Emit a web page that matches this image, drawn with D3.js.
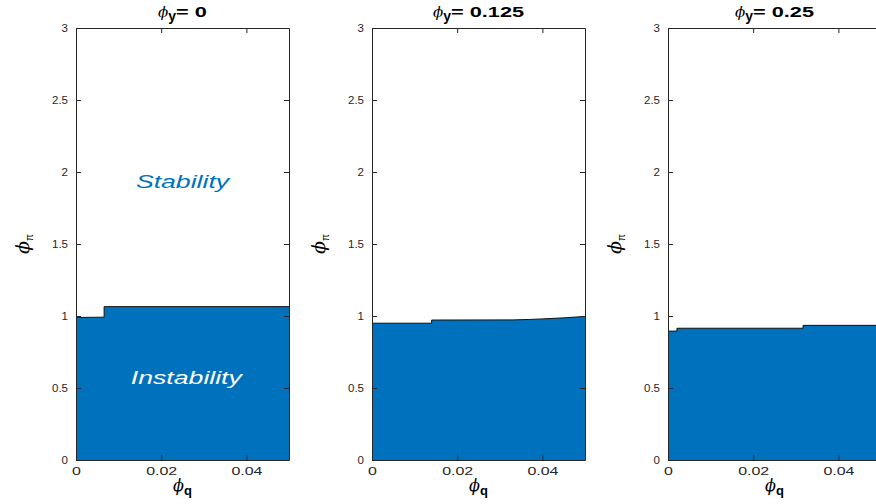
<!DOCTYPE html>
<html><head><meta charset="utf-8">
<script src="https://cdn.jsdelivr.net/npm/d3@7"></script>
<style>body{margin:0;background:#fff}svg{display:block}text{font-family:"Liberation Sans",Arial,sans-serif}</style>
</head><body><svg id="c" width="876" height="504"></svg>
<script>
const titles = ["0", "0.125", "0.25"];
const xTicks = [0, 0.02, 0.04];
const yTicks = [0, 0.5, 1, 1.5, 2, 2.5, 3];
const yTickLabels = ["0", "0.5", "1", "1.5", "2", "2.5", "3"];
const xTickLabels = ["0", "0.02", "0.04"];
const phiQ1 = [0, 0.0007, 0.0066, 0.0066, 0.05];
const phiPi1 = [0.995, 0.99, 0.992, 1.065, 1.065];
const phiQ2 = [0, 0.014, 0.014, 0.033, 0.037, 0.040, 0.045, 0.05];
const phiPi2 = [0.95, 0.95, 0.972, 0.973, 0.976, 0.980, 0.987, 0.997];
const phiQ3 = [0, 0.0021, 0.0021, 0.0317, 0.0317, 0.05];
const phiPi3 = [0.895, 0.895, 0.915, 0.915, 0.935, 0.935];
const series = [[phiQ1, phiPi1], [phiQ2, phiPi2], [phiQ3, phiPi3]];

(function () {
const svg = d3.select("#c");
const lefts = [76, 372, 668], W = 213, plotTop = 28, plotBottom = 460;
const blue = "#0072BD";

lefts.forEach((L, i) => {
  const x = d3.scaleLinear().domain([0, 0.05]).range([L, L + W]);
  const y = d3.scaleLinear().domain([0, 3]).range([plotBottom, plotTop]);
  const g = svg.append("g");
  const pts = series[i][0].map((q, k) => [q, series[i][1][k]]);
  const area = d3.area().x(d => x(d[0])).y0(y(0)).y1(d => y(d[1]));
  g.append("path").datum(pts).attr("d", area).attr("fill", blue);
  g.append("path").datum(pts).attr("d", d3.line().x(d => x(d[0])).y(d => y(d[1])))
    .attr("fill", "none").attr("stroke", "#111").attr("stroke-width", 1);

  const ax = g.append("g").attr("transform", `translate(0,${plotBottom})`)
    .call(d3.axisBottom(x).tickValues(xTicks).tickFormat((d, k) => xTickLabels[k]).tickSizeInner(-5).tickSizeOuter(0).tickPadding(7));
  const axT = g.append("g").attr("transform", `translate(0,${plotTop})`)
    .call(d3.axisTop(x).tickValues(xTicks).tickFormat("").tickSizeInner(-5).tickSizeOuter(0));
  const ay = g.append("g").attr("transform", `translate(${L},0)`)
    .call(d3.axisLeft(y).tickValues(yTicks).tickFormat((d, k) => yTickLabels[k]).tickSizeInner(-5).tickSizeOuter(0).tickPadding(8));
  const ayR = g.append("g").attr("transform", `translate(${L + W},0)`)
    .call(d3.axisRight(y).tickValues(yTicks).tickFormat("").tickSizeInner(-5).tickSizeOuter(0));
  [ax, axT, ay, ayR].forEach(a => {
    a.select(".domain").attr("stroke", "#262626").attr("stroke-width", 1);
    a.selectAll(".tick line").attr("stroke", "#262626");
    a.selectAll(".tick text").attr("fill", "#262626").style("font-size", "11.5px").style("font-family", "Liberation Sans, Arial, sans-serif");
  });
  ax.selectAll(".tick text").attr("transform", "scale(1.45,1)").style("font-size", "11px");

  // title: phi_y (normal) + "= value" (wide)
  const cx = L + W / 2, s = 1.45;
  const t1 = g.append("text").attr("y", 17).style("font-size", "15px").attr("fill", "#000");
  t1.append("tspan").text("\u03D5").style("font-style", "italic").style("font-family", "DejaVu Serif");
  t1.append("tspan").text("y").attr("dy", 4).style("font-weight", "bold").style("font-size", "14px");
  const t2 = g.append("text").style("font-size", "15px").style("font-weight", "bold").attr("fill", "#000").text("= " + titles[i]);
  const w1 = t1.node().getComputedTextLength();
  const w2 = t2.node().getComputedTextLength() * s;
  const x0 = cx - (w1 + w2) / 2;
  t1.attr("x", x0);
  t2.attr("transform", `translate(${x0 + w1},17) scale(${s},1)`);

  const xl = g.append("text").attr("x", L + W / 2).attr("y", 491).attr("text-anchor", "middle")
    .style("font-size", "16px").attr("fill", "#000");
  xl.append("tspan").text("\u03D5").style("font-style", "italic").style("font-family", "DejaVu Serif");
  xl.append("tspan").text("q").attr("dy", 4).style("font-weight", "bold").style("font-size", "13px");

  const yl = g.append("text").attr("transform", `translate(${L - 47},${y(1.5)}) rotate(-90)`)
    .attr("text-anchor", "middle").style("font-size", "19px").attr("fill", "#000");
  yl.append("tspan").text("\u03D5").style("font-style", "italic").style("font-family", "DejaVu Serif");
  yl.append("tspan").text("\u03C0").attr("dy", 4).style("font-size", "10px");

  if (i === 0) {
    g.append("text").attr("transform", `translate(${x(0.025)},188) scale(1.48,1)`).attr("text-anchor", "middle")
      .style("font-size", "18px").style("font-style", "italic").attr("fill", blue).text("Stability");
    g.append("text").attr("transform", `translate(${x(0.0259)},384) scale(1.48,1)`).attr("text-anchor", "middle")
      .style("font-size", "18px").style("font-style", "italic").attr("fill", "#fff").text("Instability");
  }
});
})();
</script></body></html>
